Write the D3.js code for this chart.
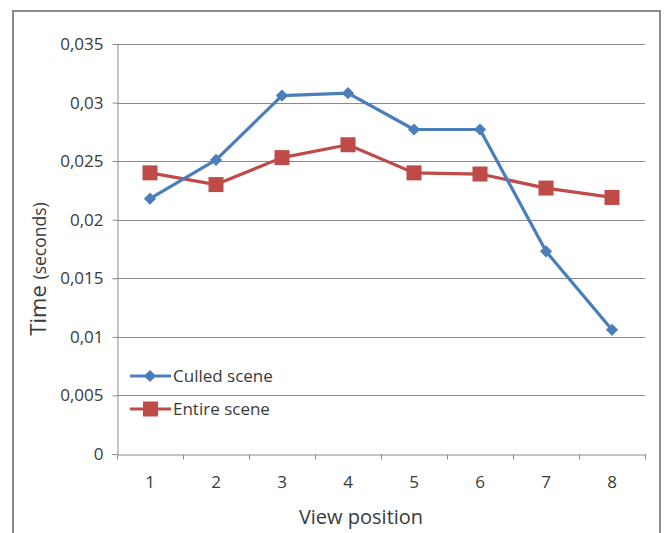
<!DOCTYPE html>
<html>
<head>
<meta charset="utf-8">
<script src="https://cdn.jsdelivr.net/npm/d3@7"></script>
<style>
  html, body { margin: 0; padding: 0; background: #fff; }
  svg { display: block; font-family: "Open Sans", Lato, sans-serif; }
</style>
</head>
<body>
<svg id="chart" width="669" height="533"></svg>
<script>
// View positions along the x axis
const positions = ["1", "2", "3", "4", "5", "6", "7", "8"];
// Render time per view position, in seconds
const culledScene = [0.0218, 0.0251, 0.0306, 0.0308, 0.0277, 0.0277, 0.0173, 0.0106];
const entireScene = [0.0240, 0.0230, 0.0253, 0.0264, 0.0240, 0.0239, 0.0227, 0.0219];
const yTicks = [0, 0.005, 0.01, 0.015, 0.02, 0.025, 0.03, 0.035];
const seriesNames = ["Culled scene", "Entire scene"];

const svg = d3.select("#chart");
const plot = { left: 117, right: 645, top: 44, bottom: 454 };
const textColor = "#3a3a3a";

// Outer chart frame
svg.append("rect")
  .attr("x", 13).attr("y", 11)
  .attr("width", 647).attr("height", 540)
  .attr("fill", "none").attr("stroke", "#8c8c8c").attr("stroke-width", 2);

const x = d3.scaleBand().domain(positions).range([plot.left, plot.right]).padding(0);
const y = d3.scaleLinear().domain([0, 0.035]).range([plot.bottom, plot.top]);

const fmt = v => v === 0 ? "0" : String(+v.toFixed(3)).replace(".", ",");

// Horizontal gridlines
svg.append("g").selectAll("line").data(yTicks.filter(t => t > 0)).join("line")
  .attr("x1", plot.left).attr("x2", plot.right)
  .attr("y1", d => Math.round(y(d)) + 0.5).attr("y2", d => Math.round(y(d)) + 0.5)
  .attr("stroke", "#8a8a8a").attr("stroke-width", 1);

// Y axis
const yAxis = svg.append("g")
  .attr("transform", `translate(${plot.left + 0.5},0)`)
  .call(d3.axisLeft(y).tickValues(yTicks).tickSize(5).tickSizeOuter(0).tickFormat(fmt).tickPadding(9));
yAxis.select(".domain").attr("stroke", "#8a8a8a");
yAxis.selectAll(".tick line").attr("stroke", "#8a8a8a");
yAxis.selectAll(".tick text").attr("fill", textColor).attr("font-size", 17)
  .attr("font-family", "'Open Sans', sans-serif");

// X axis with ticks between categories
const xAxis = svg.append("g")
  .attr("transform", `translate(0,${Math.round(plot.bottom) + 0.5})`)
  .call(d3.axisBottom(x).tickSize(0).tickPadding(21));
xAxis.select(".domain").attr("stroke", "#8a8a8a");
xAxis.selectAll(".tick text").attr("fill", textColor).attr("font-size", 17)
  .attr("font-family", "'Open Sans', sans-serif");
const bounds = positions.map(p => x(p)).concat([plot.right]);
xAxis.append("g").selectAll("line").data(bounds).join("line")
  .attr("x1", d => Math.round(d) + 0.5).attr("x2", d => Math.round(d) + 0.5)
  .attr("y1", 0).attr("y2", 5)
  .attr("stroke", "#8a8a8a");

// Axis titles
svg.append("text")
  .attr("x", 361).attr("y", 524)
  .attr("text-anchor", "middle").attr("font-size", 20).attr("fill", textColor)
  .text("View position");
const yTitle = svg.append("text")
  .attr("transform", "translate(46,269) rotate(-90)")
  .attr("text-anchor", "middle").attr("fill", textColor);
yTitle.append("tspan").attr("font-size", 22).text("Time ");
yTitle.append("tspan").attr("font-size", 17.5).text("(seconds)");

const cx = (d, i) => x(positions[i]) + x.bandwidth() / 2;
const line = d3.line().x(cx).y(d => y(d));

const colors = ["#4a7ebb", "#be4b48"];
const data = [culledScene, entireScene];
const diamond = d3.symbol().type(d3.symbolDiamond2).size(95);

// Entire scene first so culled line sits on top
[1, 0].forEach(s => {
  const g = svg.append("g");
  g.append("path").datum(data[s]).attr("d", line)
    .attr("fill", "none").attr("stroke", colors[s]).attr("stroke-width", 3.2)
    .attr("stroke-linejoin", "round");
  if (s === 0) {
    g.selectAll("path.m").data(data[s]).join("path").attr("class", "m")
      .attr("d", diamond)
      .attr("transform", (d, i) => `translate(${cx(d, i)},${y(d)})`)
      .attr("fill", colors[s]);
  } else {
    g.selectAll("rect.m").data(data[s]).join("rect").attr("class", "m")
      .attr("x", (d, i) => cx(d, i) - 7.5).attr("y", d => y(d) - 7.5)
      .attr("width", 15).attr("height", 15)
      .attr("fill", colors[s]);
  }
});

// Legend
const legend = svg.append("g");
seriesNames.forEach((name, s) => {
  const ly = 376 + s * 33;
  legend.append("rect").attr("x", 128).attr("y", ly - 9).attr("width", 150).attr("height", 19).attr("fill", "#fff");
  legend.append("line").attr("x1", 130).attr("x2", 171).attr("y1", ly).attr("y2", ly)
    .attr("stroke", colors[s]).attr("stroke-width", 3.2);
  if (s === 0) {
    legend.append("path").attr("d", diamond)
      .attr("transform", `translate(150,${ly})`).attr("fill", colors[s]);
  } else {
    legend.append("rect").attr("x", 143).attr("y", ly - 7.5).attr("width", 15).attr("height", 15).attr("fill", colors[s]);
  }
  legend.append("text").attr("x", 173).attr("y", ly + 6)
    .attr("font-size", 17).attr("fill", textColor).text(name);
});
</script>
</body>
</html>
